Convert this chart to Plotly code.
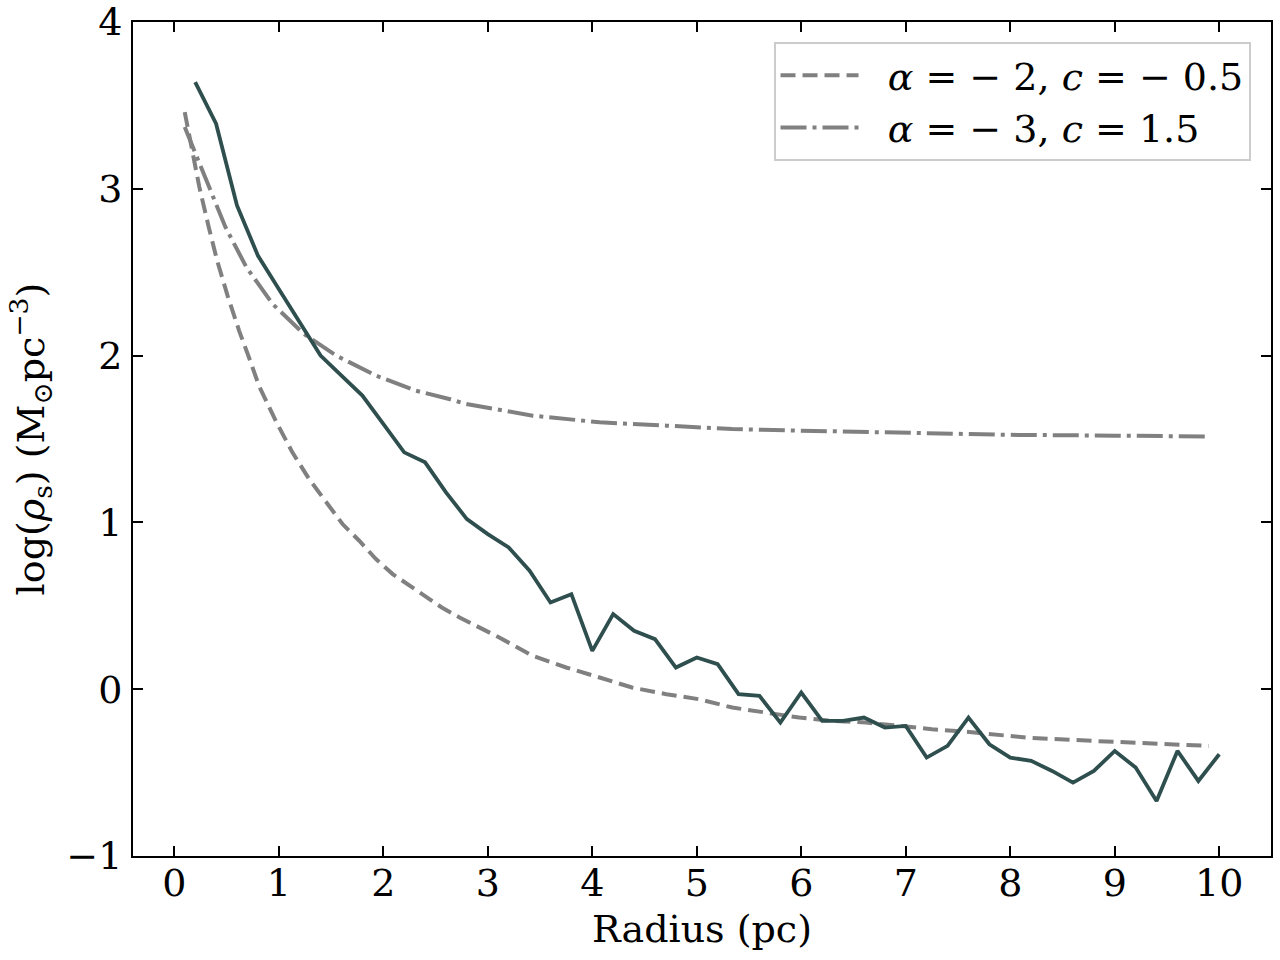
import plotly.graph_objects as go

# measured density profile
radius = [0.2, 0.4, 0.6, 0.8, 1.0, 1.2, 1.4, 1.6, 1.8, 2.0,
          2.2, 2.4, 2.6, 2.8, 3.0, 3.2, 3.4, 3.6, 3.8, 4.0,
          4.2, 4.4, 4.6, 4.8, 5.0, 5.2, 5.4, 5.6, 5.8, 6.0,
          6.2, 6.4, 6.6, 6.8, 7.0, 7.2, 7.4, 7.6, 7.8, 8.0,
          8.2, 8.4, 8.6, 8.8, 9.0, 9.2, 9.4, 9.6, 9.8, 10.0]
log_rho = [3.64, 3.39, 2.90, 2.60, 2.40, 2.20, 2.00, 1.88, 1.76, 1.59,
           1.42, 1.36, 1.18, 1.02, 0.93, 0.85, 0.71, 0.52, 0.57, 0.23,
           0.45, 0.35, 0.30, 0.13, 0.19, 0.15, -0.03, -0.04, -0.20, -0.02,
           -0.19, -0.19, -0.17, -0.23, -0.22, -0.41, -0.34, -0.17, -0.33, -0.41,
           -0.43, -0.49, -0.56, -0.49, -0.37, -0.47, -0.67, -0.37, -0.55, -0.39]

# model alpha=-2, c=-0.5
model1_r = [0.10, 0.24, 0.33, 0.41, 0.51, 0.62, 0.72, 0.81, 0.97, 1.13,
            1.29, 1.45, 1.61, 1.77, 1.93, 2.09, 2.25, 2.41, 2.56, 2.73,
            3.11, 3.43, 3.75, 4.07, 4.38, 4.71, 5.02, 5.34, 5.66, 5.98,
            6.30, 6.62, 6.94, 7.25, 7.58, 8.15, 8.79, 9.43, 9.90]
model1_y = [3.46, 3.01, 2.77, 2.57, 2.36, 2.15, 1.98, 1.82, 1.61, 1.42,
            1.26, 1.12, 0.99, 0.89, 0.78, 0.69, 0.62, 0.55, 0.49, 0.43,
            0.31, 0.20, 0.13, 0.07, 0.01, -0.03, -0.06, -0.11, -0.14, -0.17,
            -0.19, -0.20, -0.22, -0.24, -0.255, -0.29, -0.31, -0.33, -0.34]

# model alpha=-3, c=1.5
model2_r = [0.10, 0.17, 0.33, 0.49, 0.69, 0.94, 1.24, 1.55, 1.93, 2.31,
            2.63, 2.79, 3.43, 4.07, 4.71, 5.34, 6.0, 7.0, 8.0, 9.0, 9.9]
model2_y = [3.37, 3.26, 3.01, 2.77, 2.53, 2.31, 2.13, 2.00, 1.88, 1.79,
            1.74, 1.71, 1.64, 1.60, 1.58, 1.56, 1.55, 1.535, 1.525, 1.52, 1.515]

yticks = [-1, 0, 1, 2, 3, 4]
xticks = [0, 1, 2, 3, 4, 5, 6, 7, 8, 9, 10]

font = "DejaVu Serif"
fs = 38
pad = "\u00a0\u00a0"

fig = go.Figure()
fig.add_trace(go.Scatter(x=model1_r, y=model1_y, mode="lines",
                         line=dict(color="#808080", width=4, dash="15px,7px"),
                         name=pad + "<i>α</i> = − 2, <i>c</i> = − 0.5"))
fig.add_trace(go.Scatter(x=model2_r, y=model2_y, mode="lines",
                         line=dict(color="#808080", width=4, dash="26px,6px,4px,6px"),
                         name=pad + "<i>α</i> = − 3, <i>c</i> = 1.5"))
fig.add_trace(go.Scatter(x=radius, y=log_rho, mode="lines",
                         line=dict(color="#2F4F4F", width=3.8),
                         showlegend=False))

axis_style = dict(showline=True, linecolor="black", linewidth=2, mirror="ticks",
                  ticks="inside", ticklen=10, tickwidth=2, tickcolor="black",
                  showgrid=False, zeroline=False, automargin=False,
                  ticklabeloverflow="allow",
                  tickfont=dict(family=font, size=fs, color="black"))

fig.update_layout(
    width=1280, height=960,
    margin=dict(l=133, r=9, t=22, b=104),
    plot_bgcolor="white", paper_bgcolor="white",
    font=dict(family=font, size=fs, color="black"),
    xaxis=dict(range=[-0.395, 10.495], tickvals=xticks, ticklabelstandoff=-8,
               title=dict(text="Radius (pc)", standoff=12,
                          font=dict(family=font, size=fs)), **axis_style),
    yaxis=dict(range=[-1.0001, 4.0001], tickvals=yticks, ticklabelstandoff=1,
               title=dict(text="log(<i>ρ</i><sub>s</sub>) (M<sub>⊙</sub>pc<sup>−3</sup>)", standoff=10,
                          font=dict(family=font, size=fs)),
               **axis_style),
    legend=dict(x=0.982, y=0.976, xanchor="right", yanchor="top",
                bgcolor="rgba(255,255,255,0.8)", bordercolor="#cccccc", borderwidth=2,
                font=dict(family=font, size=fs), itemwidth=78),
)

fig.write_html("out.html", config={"displayModeBar": False},
               post_script="document.body.style.margin='0';")
